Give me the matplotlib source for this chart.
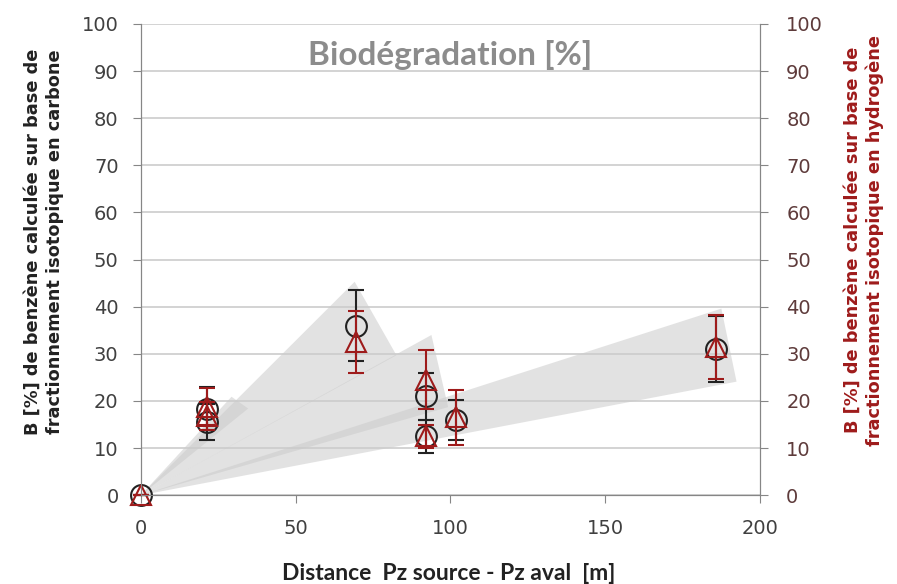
import numpy as np
import matplotlib.pyplot as plt
from matplotlib.patches import Polygon

# distance from the source well [m]
distance = [0, 21.5, 21.5, 69.5, 92, 92, 102, 186]

# biodegradation from carbon isotope fractionation (left axis)
b_carbon = [0, 18.4, 15.6, 36, 21, 12.5, 16, 31]
err_carbon = [0, 4.5, 3.8, 7.5, 5, 3.5, 4.2, 7]

# biodegradation from hydrogen isotope fractionation (right axis)
b_hydro = [0, 18.8, 16.8, 32.5, 24.5, 12.5, 16.5, 31.5]
err_hydro = [0, 4, 3, 6.5, 6.3, 2.5, 5.9, 6.8]

# shaded uncertainty wedges, all starting at the origin
wedges = [
    [(0, 0), (29.3, 20.9), (34.7, 18.4)],
    [(0, 0), (69.1, 45.3), (82.6, 29.7)],
    [(0, 0), (93.9, 34.0), (99.3, 18.7)],
    [(0, 0), (187.6, 39.6), (192.5, 24.1)],
]

red = '#9e1b1b'
grey = '#868686'

fig = plt.figure(figsize=(8.97, 5.84), dpi=100)
ax = fig.add_axes([0.157, 0.152, 0.690, 0.807])
ax2 = ax.twinx()

for w in wedges:
    ax.add_patch(Polygon(w, closed=True, facecolor='#cbcbcb', edgecolor='none',
                         alpha=0.55, zorder=1))

ax.errorbar(distance, b_carbon, yerr=err_carbon, fmt='o', ms=15, mfc='none',
            mec='#222222', mew=1.5, ecolor='#222222', elinewidth=1.5,
            capsize=6, capthick=1.5, zorder=3, clip_on=False)
ax.errorbar(distance, b_hydro, yerr=err_hydro, fmt='^', ms=15, mfc='none',
            mec=red, mew=1.5, ecolor=red, elinewidth=1.5,
            capsize=6, capthick=1.5, zorder=4, clip_on=False)

for a in (ax, ax2):
    a.set_xlim(0, 200)
    a.set_ylim(0, 100)
    a.set_yticks(np.arange(0, 101, 10))
    for s in a.spines.values():
        s.set_color(grey)
    a.spines['top'].set_visible(False)

ax.set_xticks([0, 50, 100, 150, 200])
ax.yaxis.grid(True, color='#cccccc', lw=1.2)
ax.set_axisbelow(True)
ax.tick_params(axis='both', direction='out', color=grey, length=6,
               labelsize=14, labelcolor='#404040', pad=10)
ax.tick_params(axis='x', pad=11)
ax2.tick_params(axis='y', direction='out', color=grey, length=6,
                labelsize=14, labelcolor='#5e3b3b', pad=13)

lab = dict(fontsize=12.8, fontweight='bold', family='DejaVu Sans',
           ha='center', va='center', rotation=90, linespacing=1.3)
fig.text(44 / 897, 1 - 242 / 584, 'B [%] de benzène calculée sur base de\n'
         'fractionnement isotopique en carbone', color='#222222', **lab)
fig.text(864 / 897, 1 - 240 / 584, 'B [%] de benzène calculée sur base de\n'
         'fractionnement isotopique en hydrogène', color=red, **lab)
fig.text(449 / 897, 1 - 573 / 584, 'Distance  Pz source - Pz aval  [m]',
         fontsize=16.5, fontweight='bold', family='Lato', color='#222222',
         ha='center', va='center')

ax.text(100, 91.3, 'Biodégradation [%]', ha='center', va='baseline',
        fontsize=24, fontweight='bold', family='Lato', color='#8c8c8c')

fig.savefig('out.png', dpi=100)
